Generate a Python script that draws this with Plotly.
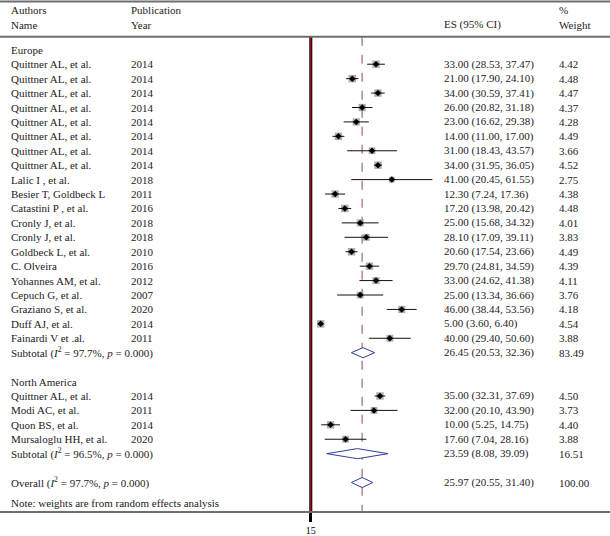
import plotly.graph_objects as go

# ---------------- data ----------------
eu_names = ["Quittner AL, et al.", "Quittner AL, et al.", "Quittner AL, et al.", "Quittner AL, et al.",
            "Quittner AL, et al.", "Quittner AL, et al.", "Quittner AL, et al.", "Quittner AL, et al.",
            "Lalic I , et al.", "Besier T, Goldbeck L", "Catastini P , et al.", "Cronly J, et al.",
            "Cronly J, et al.", "Goldbeck L, et al.", "C. Olveira", "Yohannes AM, et al.",
            "Cepuch G, et al.", "Graziano S, et al.", "Duff AJ, et al.", "Fainardi V et .al."]
eu_years = ["2014", "2014", "2014", "2014", "2014", "2014", "2014", "2014", "2018", "2011", "2016",
            "2018", "2018", "2010", "2016", "2012", "2007", "2020", "2014", "2011"]
eu_es = [33.00, 21.00, 34.00, 26.00, 23.00, 14.00, 31.00, 34.00, 41.00, 12.30, 17.20, 25.00, 28.10,
         20.60, 29.70, 33.00, 25.00, 46.00, 5.00, 40.00]
eu_lo = [28.53, 17.90, 30.59, 20.82, 16.62, 11.00, 18.43, 31.95, 20.45, 7.24, 13.98, 15.68, 17.09,
         17.54, 24.81, 24.62, 13.34, 38.44, 3.60, 29.40]
eu_hi = [37.47, 24.10, 37.41, 31.18, 29.38, 17.00, 43.57, 36.05, 61.55, 17.36, 20.42, 34.32, 39.11,
         23.66, 34.59, 41.38, 36.66, 53.56, 6.40, 50.60]
eu_w = [4.42, 4.48, 4.47, 4.37, 4.28, 4.49, 3.66, 4.52, 2.75, 4.38, 4.48, 4.01, 3.83, 4.49, 4.39,
        4.11, 3.76, 4.18, 4.54, 3.88]

na_names = ["Quittner AL, et al.", "Modi AC, et al.", "Quon BS, et al.", "Mursaloglu HH, et al."]
na_years = ["2014", "2011", "2014", "2020"]
na_es = [35.00, 32.00, 10.00, 17.60]
na_lo = [32.31, 20.10, 5.25, 7.04]
na_hi = [37.69, 43.90, 14.75, 28.16]
na_w = [4.50, 3.73, 4.40, 3.88]

sub_labels = ["Subtotal (<i>I</i><sup>2</sup> = 97.7%, <i>p</i> = 0.000)",
              "Subtotal (<i>I</i><sup>2</sup> = 96.5%, <i>p</i> = 0.000)",
              "Overall (<i>I</i><sup>2</sup> = 97.7%, <i>p</i> = 0.000)"]
sub_es = [26.45, 23.59, 25.97]
sub_lo = [20.53, 8.08, 20.55]
sub_hi = [32.36, 39.09, 31.40]
sub_w = [83.49, 16.51, 100.00]

group_labels = ["Europe", "North America"]
tick_vals = [0]
tick_text = ["15"]

# ---------------- layout rows ----------------
names = eu_names + na_names
years = eu_years + na_years
es = eu_es + na_es
lo = eu_lo + na_lo
hi = eu_hi + na_hi
w = eu_w + na_w
rows = list(range(1, 21)) + list(range(24, 28))
group_rows = [0, 23]
sub_rows = [21, 28, 30]

FONT = "Liberation Serif, Times New Roman, serif"
TXT = "#222222"
X_NAME, X_YEAR, X_ES, X_W = 9 / 610, 129 / 610, 442 / 610, 557 / 610

fig = go.Figure()

# CI lines
lx, ly = [], []
for r, a, b in zip(rows, lo, hi):
    lx += [a, b, None]
    ly += [r, r, None]

# boxes
fig.add_trace(go.Scatter(x=es, y=rows, mode="markers",
                         marker=dict(symbol="square", color="#8a8a8a",
                                     size=[3.5 * (v ** 0.5) for v in w], line=dict(width=0)),
                         hoverinfo="skip"))
fig.add_trace(go.Scatter(x=lx, y=ly, mode="lines", line=dict(color="#111111", width=1), hoverinfo="skip"))
fig.add_trace(go.Scatter(x=es, y=rows, mode="markers",
                         marker=dict(symbol="diamond", color="black", size=5), hoverinfo="skip"))

# diamonds
for r, c, a, b in zip(sub_rows, sub_es, sub_lo, sub_hi):
    h = 0.35
    fig.add_trace(go.Scatter(x=[a, c, b, c, a], y=[r, r - h, r, r + h, r], mode="lines",
                             fill="toself", fillcolor="white",
                             line=dict(color="#2d3f96", width=1), hoverinfo="skip"))

# vertical lines
y_top = -0.9
y_bot = 31.975
overall = sub_es[2]
shapes = [
    dict(type="line", xref="x", yref="y", x0=overall, x1=overall, y0=y_top, y1=y_bot,
         line=dict(color="#a26868", width=1.2, dash="dash"), layer="below"),
    dict(type="line", xref="x", yref="y", x0=0, x1=0, y0=y_top, y1=y_bot,
         line=dict(color="black", width=3)),
    dict(type="line", xref="x", yref="y", x0=0, x1=0, y0=y_top, y1=y_bot,
         line=dict(color="#e01010", width=1)),
    dict(type="line", xref="paper", yref="y", x0=0, x1=1, y0=-3.35, y1=-3.35,
         line=dict(color="#6e6e6e", width=2)),
    dict(type="line", xref="paper", yref="y", x0=0, x1=1, y0=-0.9, y1=-0.9,
         line=dict(color="#6e6e6e", width=2)),
]

ann = []
def t(x, y, s):
    ann.append(dict(x=x, y=y, xref="paper", yref="y", text=s, showarrow=False,
                    xanchor="left", yanchor="middle", font=dict(family=FONT, size=11, color=TXT)))

# header
t(X_NAME, -2.76, "Authors")
t(X_NAME, -1.73, "Name")
t(X_YEAR, -2.76, "Publication")
t(X_YEAR, -1.73, "Year")
t(X_ES, -1.73, "ES (95% CI)")
t(X_W, -2.76, "%")
t(X_W, -1.73, "Weight")

for g, r in zip(group_labels, group_rows):
    t(X_NAME, r, g)
for n, yv, r, e, a, b, ww in zip(names, years, rows, es, lo, hi, w):
    t(X_NAME, r, n)
    t(X_YEAR, r, yv)
    t(X_ES, r, f"{e:.2f} ({a:.2f}, {b:.2f})")
    t(X_W, r, f"{ww:.2f}")
for s, r, e, a, b, ww in zip(sub_labels, sub_rows, sub_es, sub_lo, sub_hi, sub_w):
    t(X_NAME, r, s)
    t(X_ES, r, f"{e:.2f} ({a:.2f}, {b:.2f})")
    t(X_W, r, f"{ww:.2f}")
t(X_NAME, 31.4, "Note: weights are from random effects analysis")

fig.update_layout(
    width=610, height=536,
    margin=dict(l=0, r=0, t=0, b=23),
    paper_bgcolor="white", plot_bgcolor="white",
    showlegend=False,
    shapes=shapes, annotations=ann,
    xaxis=dict(range=[-157.29, 151.42], showgrid=False, zeroline=False,
               showline=True, linecolor="#6e6e6e", linewidth=2,
               tickvals=tick_vals, ticktext=tick_text, ticks="outside", ticklen=9,
               tickwidth=3, tickcolor="black",
               tickfont=dict(family=FONT, size=10, color="black"), fixedrange=True),
    yaxis=dict(range=[31.975, -3.453], showgrid=False, zeroline=False, showticklabels=False,
               showline=False, fixedrange=True),
)

fig.write_html("out.html", config={"displayModeBar": False, "staticPlot": True},
               post_script="document.body.style.margin='0';document.body.style.overflow='hidden';")
